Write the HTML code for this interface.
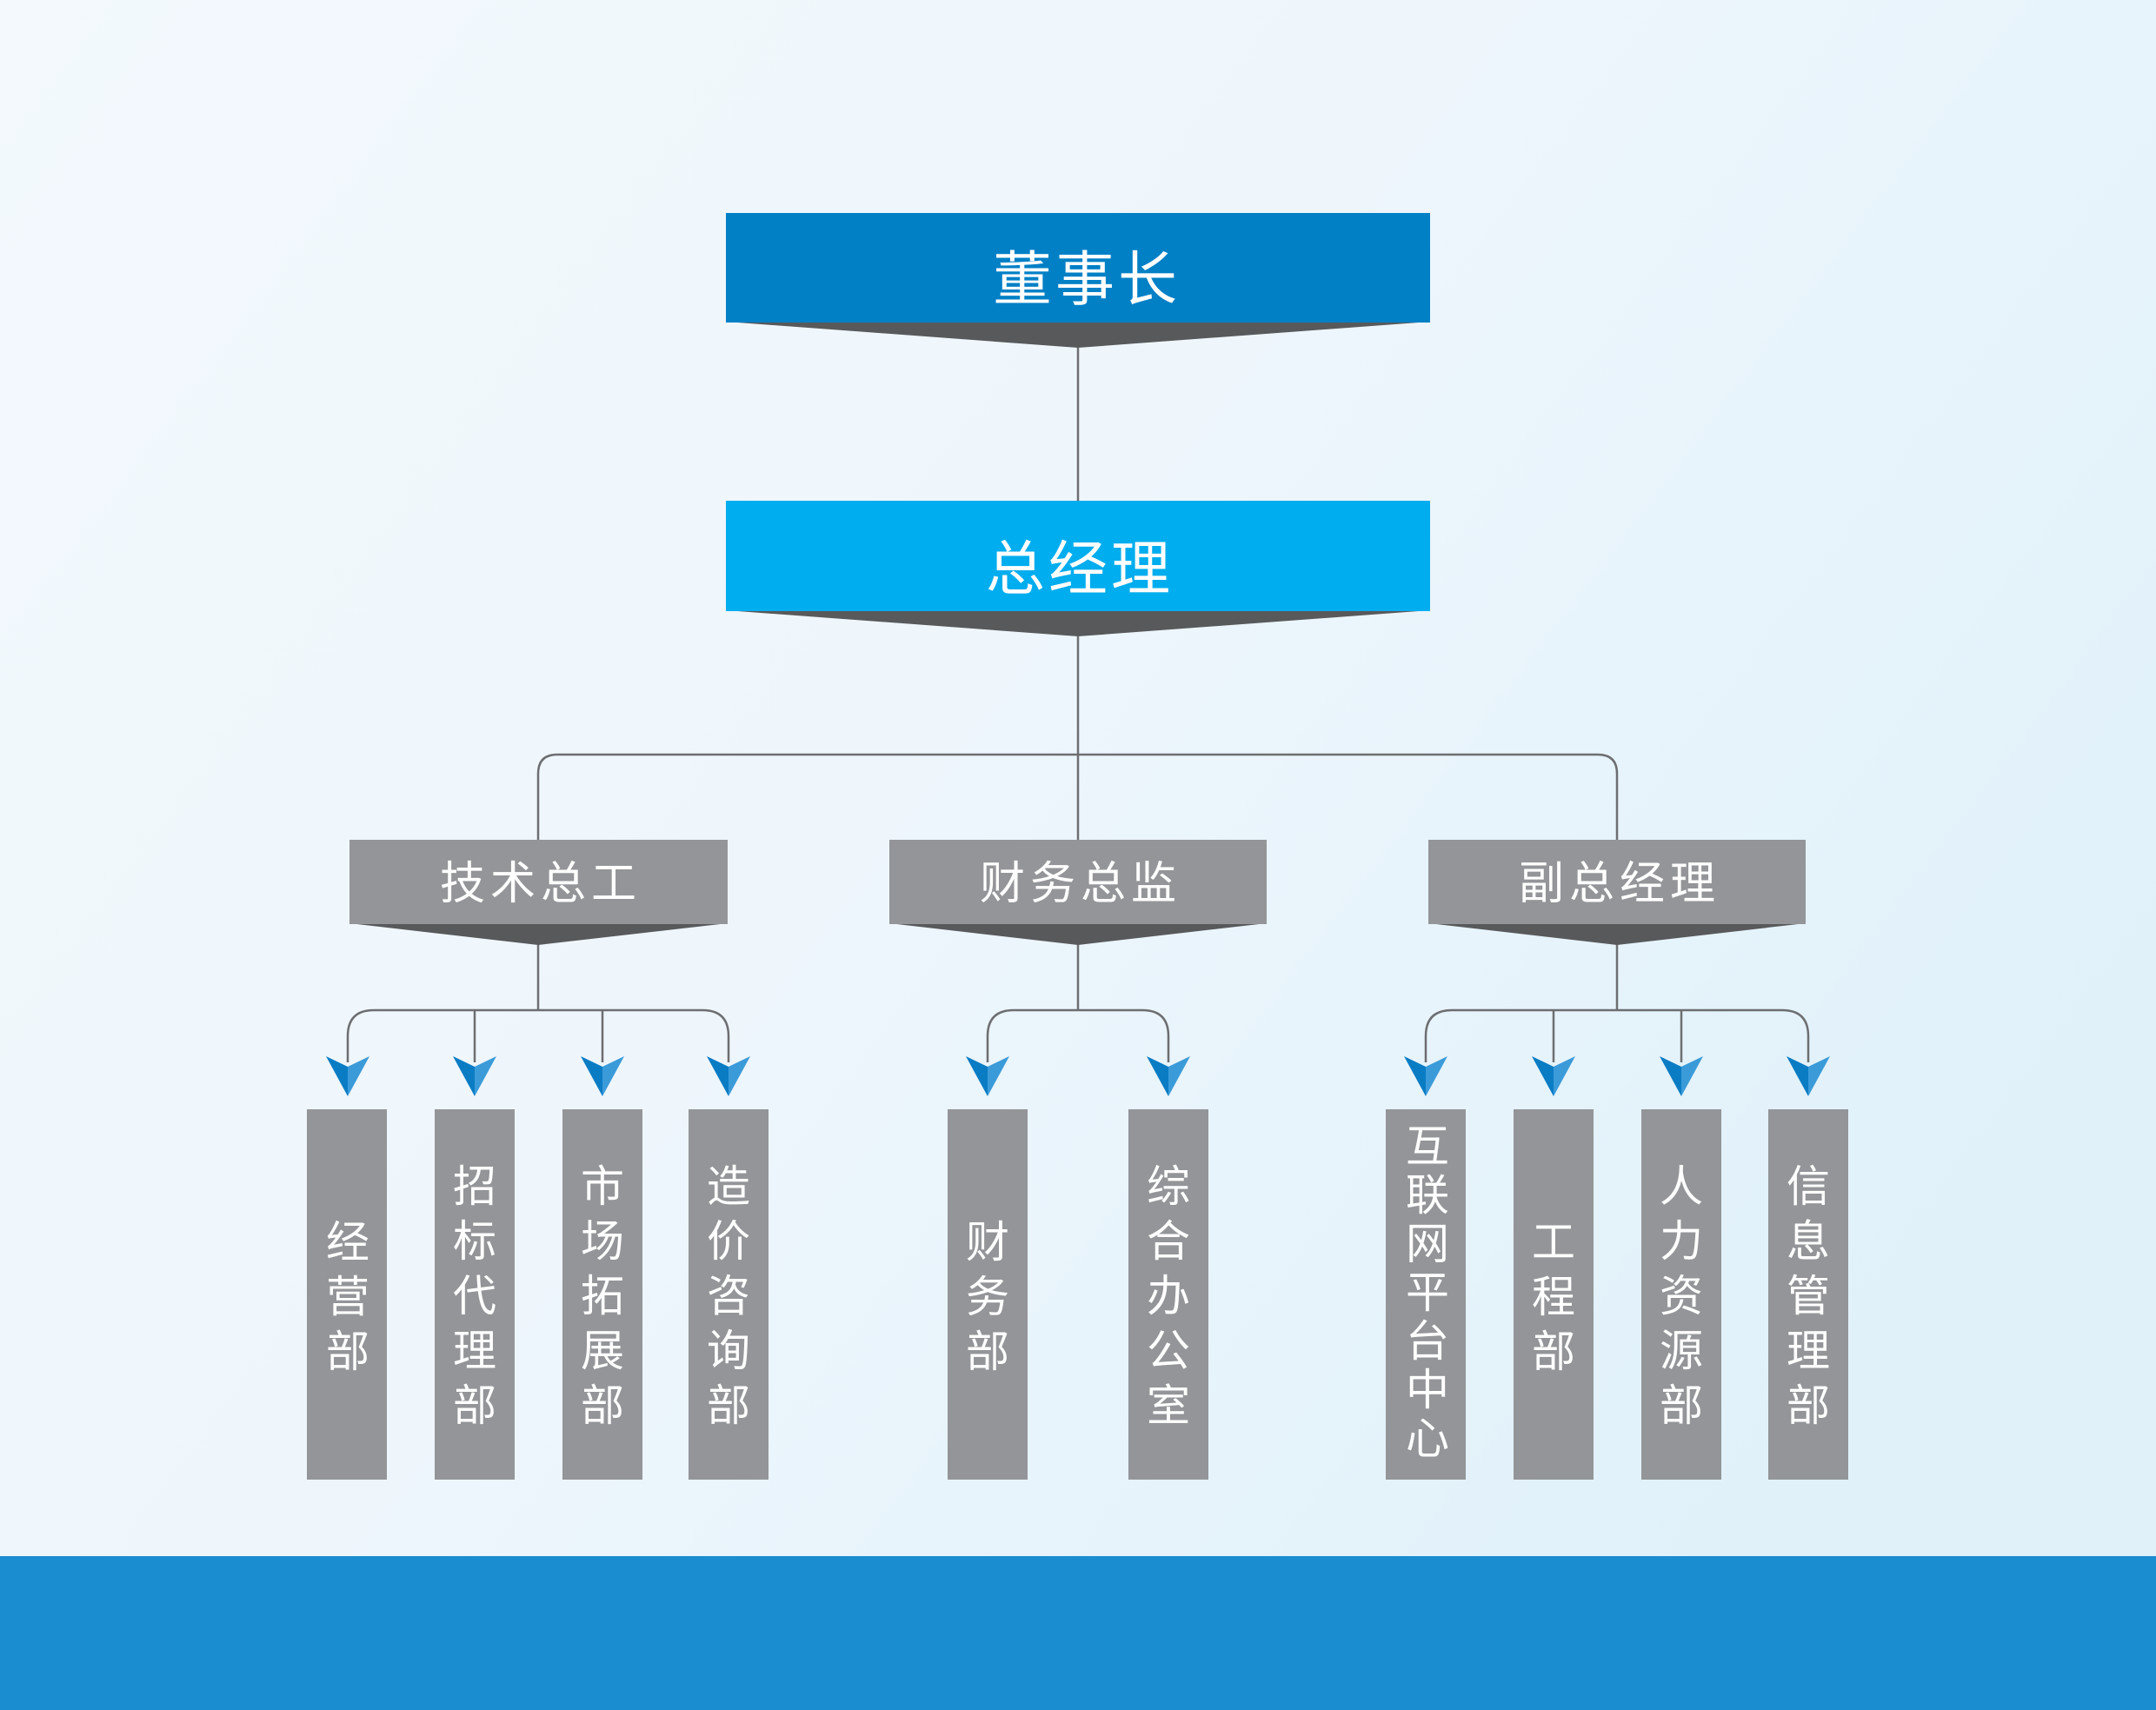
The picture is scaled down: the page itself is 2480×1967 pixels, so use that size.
<!DOCTYPE html>
<html><head><meta charset="utf-8"><style>
html,body{margin:0;padding:0;width:2480px;height:1967px;overflow:hidden}
svg{display:block}
text{font-family:"Liberation Sans","Noto Sans CJK SC",sans-serif;fill:#fff;text-anchor:middle}
</style></head><body>
<svg width="2480" height="1967" viewBox="0 0 2480 1967" xmlns="http://www.w3.org/2000/svg">
<defs>
<linearGradient id="bg" x1="0" y1="0" x2="1" y2="0.6">
<stop offset="0" stop-color="#f3f9fd"/><stop offset="0.5" stop-color="#eef6fc"/><stop offset="1" stop-color="#e0f1fa"/>
</linearGradient>
<g id="arr"><polygon points="-25,0 0,12 0,46" fill="#0a7cc4"/><polygon points="25,0 0,12 0,46" fill="#3b9bd9"/></g>
</defs>
<rect width="2480" height="1967" fill="url(#bg)"/>
<rect y="1790" width="2480" height="177" fill="#1a8dd0"/>

<g stroke="#6d6e71" stroke-width="2.5" fill="none">
<line x1="1240" y1="395" x2="1240" y2="576"/>
<line x1="1240" y1="728" x2="1240" y2="868"/>
<path d="M619,966 V890 Q619,868 641,868 H1838 Q1860,868 1860,890 V966"/>
<line x1="1240" y1="868" x2="1240" y2="966"/>
<line x1="619" y1="1085" x2="619" y2="1162"/>
<path d="M400,1222 V1192 Q400,1162 430,1162 H808 Q838,1162 838,1192 V1222"/>
<line x1="546" y1="1162" x2="546" y2="1222"/>
<line x1="693" y1="1162" x2="693" y2="1222"/>
<line x1="1240" y1="1085" x2="1240" y2="1162"/>
<path d="M1136,1222 V1192 Q1136,1162 1166,1162 H1314 Q1344,1162 1344,1192 V1222"/>
<line x1="1860" y1="1085" x2="1860" y2="1162"/>
<path d="M1640,1222 V1192 Q1640,1162 1670,1162 H2050 Q2080,1162 2080,1192 V1222"/>
<line x1="1787" y1="1162" x2="1787" y2="1222"/>
<line x1="1934" y1="1162" x2="1934" y2="1222"/>
</g>

<polygon points="835,370 1645,370 1240,400" fill="#58595b"/>
<rect x="835" y="245" width="810" height="126" fill="#0280c6"/>
<text x="1250" y="345" font-size="68" letter-spacing="4">董事长</text>
<polygon points="835,702 1645,702 1240,732" fill="#58595b"/>
<rect x="835" y="576" width="810" height="127" fill="#00adee"/>
<text x="1242" y="678" font-size="68" letter-spacing="4">总经理</text>

<g>
<polygon points="402,1062 837,1062 619,1087" fill="#58595b"/>
<rect x="402" y="966" width="435" height="97" fill="#939598"/>
<text x="622" y="1034" font-size="52" letter-spacing="6">技术总工</text>
<polygon points="1023,1062 1457,1062 1240,1087" fill="#58595b"/>
<rect x="1023" y="966" width="434" height="97" fill="#939598"/>
<text x="1243" y="1034" font-size="52" letter-spacing="6">财务总监</text>
<polygon points="1643,1062 2077,1062 1860,1087" fill="#58595b"/>
<rect x="1643" y="966" width="434" height="97" fill="#939598"/>
<text x="1863" y="1034" font-size="52" letter-spacing="6">副总经理</text>
</g>

<use href="#arr" x="400" y="1215"/><use href="#arr" x="546" y="1215"/><use href="#arr" x="693" y="1215"/><use href="#arr" x="838" y="1215"/>
<use href="#arr" x="1136" y="1215"/><use href="#arr" x="1344" y="1215"/>
<use href="#arr" x="1640" y="1215"/><use href="#arr" x="1787" y="1215"/><use href="#arr" x="1934" y="1215"/><use href="#arr" x="2080" y="1215"/>

<g fill="#939598">
<rect x="353" y="1276" width="92" height="426"/>
<rect x="500" y="1276" width="92" height="426"/>
<rect x="647" y="1276" width="92" height="426"/>
<rect x="792" y="1276" width="92" height="426"/>
<rect x="1090" y="1276" width="92" height="426"/>
<rect x="1298" y="1276" width="92" height="426"/>
<rect x="1594" y="1276" width="92" height="426"/>
<rect x="1741" y="1276" width="92" height="426"/>
<rect x="1888" y="1276" width="92" height="426"/>
<rect x="2034" y="1276" width="92" height="426"/>
</g>
<g font-size="50">
<text x="400" y="1446"><tspan x="400">经</tspan><tspan x="400" dy="63">营</tspan><tspan x="400" dy="63">部</tspan></text>
<text x="546" y="1382"><tspan x="546">招</tspan><tspan x="546" dy="63">标</tspan><tspan x="546" dy="63">代</tspan><tspan x="546" dy="63">理</tspan><tspan x="546" dy="63">部</tspan></text>
<text x="693" y="1382"><tspan x="693">市</tspan><tspan x="693" dy="63">场</tspan><tspan x="693" dy="63">拓</tspan><tspan x="693" dy="63">展</tspan><tspan x="693" dy="63">部</tspan></text>
<text x="838" y="1382"><tspan x="838">造</tspan><tspan x="838" dy="63">价</tspan><tspan x="838" dy="63">咨</tspan><tspan x="838" dy="63">询</tspan><tspan x="838" dy="63">部</tspan></text>
<text x="1136" y="1446"><tspan x="1136">财</tspan><tspan x="1136" dy="63">务</tspan><tspan x="1136" dy="63">部</tspan></text>
<text x="1344" y="1382"><tspan x="1344">综</tspan><tspan x="1344" dy="63">合</tspan><tspan x="1344" dy="63">办</tspan><tspan x="1344" dy="63">公</tspan><tspan x="1344" dy="63">室</tspan></text>
<text x="1642" y="1336"><tspan x="1642">互</tspan><tspan x="1642" dy="56">联</tspan><tspan x="1642" dy="56">网</tspan><tspan x="1642" dy="56">平</tspan><tspan x="1642" dy="56">台</tspan><tspan x="1642" dy="56">中</tspan><tspan x="1642" dy="56">心</tspan></text>
<text x="1787" y="1446"><tspan x="1787">工</tspan><tspan x="1787" dy="63">程</tspan><tspan x="1787" dy="63">部</tspan></text>
<text x="1934" y="1382"><tspan x="1934">人</tspan><tspan x="1934" dy="63">力</tspan><tspan x="1934" dy="63">资</tspan><tspan x="1934" dy="63">源</tspan><tspan x="1934" dy="63">部</tspan></text>
<text x="2080" y="1382"><tspan x="2080">信</tspan><tspan x="2080" dy="63">息</tspan><tspan x="2080" dy="63">管</tspan><tspan x="2080" dy="63">理</tspan><tspan x="2080" dy="63">部</tspan></text>
</g>
</svg>
</body></html>
